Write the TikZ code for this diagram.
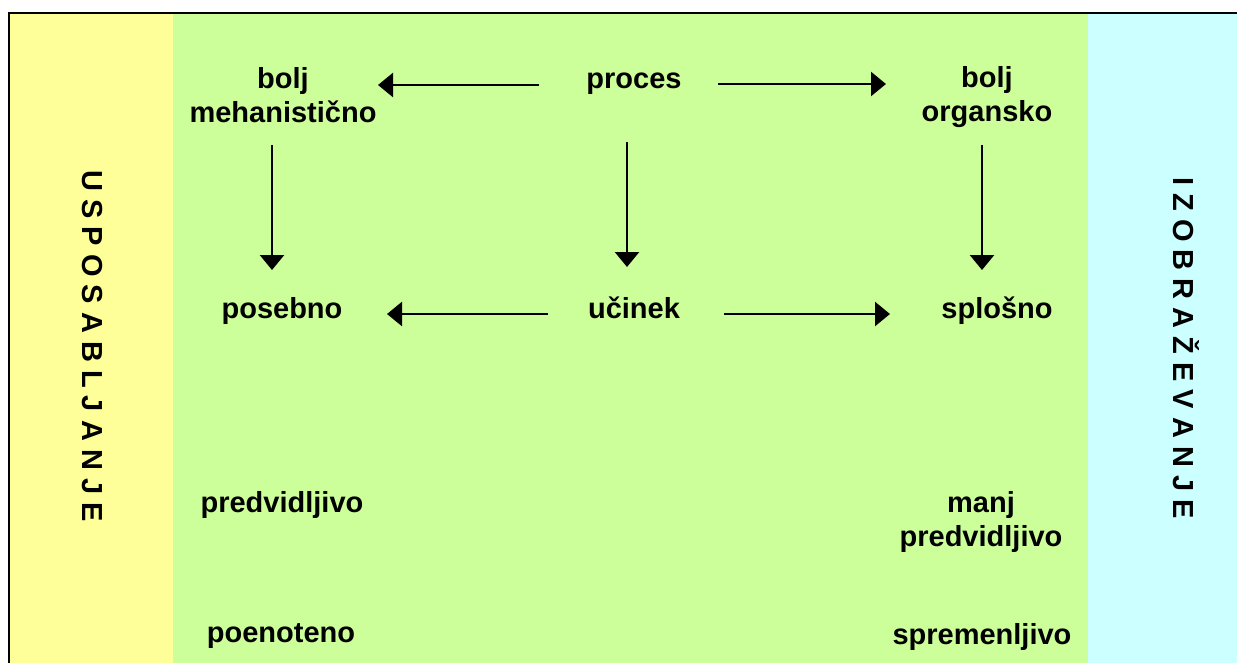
\documentclass[tikz,border=0pt]{standalone}
\usepackage{fontspec}
\setmainfont{Liberation Sans}
\usetikzlibrary{arrows.meta}
\definecolor{yel}{HTML}{FFFF99}
\definecolor{grn}{HTML}{CCFF99}
\definecolor{cyn}{HTML}{CCFFFF}
\begin{document}
\begin{tikzpicture}[x=1pt,y=-1pt]
\tikzstyle{word}=[font=\fontsize{29}{34}\selectfont\bfseries, align=center, inner sep=0pt]
\tikzstyle{side}=[font=\fontsize{29}{34}\selectfont\bfseries, rotate=-90, inner sep=0pt]
\tikzstyle{arr}=[line width=2.5pt, -{Triangle[width=24pt,length=15pt]}]
\useasboundingbox (0,0) rectangle (1237,662);
\clip (0,0) rectangle (1237,662);
% three bands and the frame
\fill[yel] (9,13) rectangle (173,700);
\fill[grn] (173,13) rectangle (1088,700);
\fill[cyn] (1088,13) rectangle (1300,700);
\draw[line width=2.5pt] (9,700) -- (9,13) -- (1300,13);

\path (92,346) node[side](usp){U S P O S A B L J A N J E};
\path (1186,348) node[side](izo){I Z O B R A Ž E V A N J E};

\path (634,88) node[word,anchor=base](proc){proces};
\path (283,95) node[word](meh){bolj\\mehanistično} (987,97) node[word](org){bolj\\organsko};
\path (634,318) node[word,anchor=base](uci){učinek};
\path (282,318) node[word,anchor=base](pos){posebno} (997,318) node[word,anchor=base](spl){splošno};
\path (282,512) node[word,anchor=base](pred){predvidljivo} (981,522) node[word](manj){manj\\predvidljivo};
\path (281,642) node[word,anchor=base](poen){poenoteno} (982,644) node[word,anchor=base](spr){spremenljivo};

% arrow ends
\coordinate (pw) at (539,85); \coordinate (mw) at (378,85);
\coordinate (pe) at (718,84); \coordinate (oe) at (886,84);
\coordinate (ms) at (272,145); \coordinate (mt) at (272,270);
\coordinate (ps) at (627,142); \coordinate (pt) at (627,267);
\coordinate (os) at (982,145); \coordinate (ot) at (982,270);
\coordinate (uw) at (548,314); \coordinate (sw) at (387,314);
\coordinate (ue) at (724,314); \coordinate (se) at (890,314);

\draw[arr] (pw) -- (mw);
\draw[arr] (pe) -- (oe);
\draw[arr] (ms) -- (mt);
\draw[arr] (ps) -- (pt);
\draw[arr] (os) -- (ot);
\draw[arr] (uw) -- (sw);
\draw[arr] (ue) -- (se);
\end{tikzpicture}
\end{document}
